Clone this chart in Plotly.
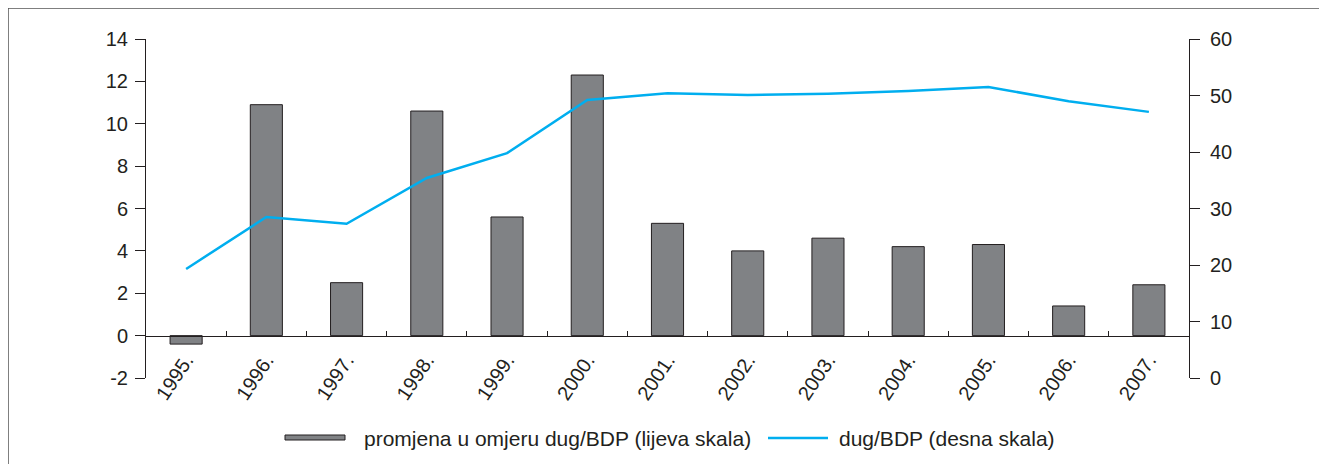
import plotly.graph_objects as go

# data
years = ["1995.", "1996.", "1997.", "1998.", "1999.", "2000.", "2001.",
         "2002.", "2003.", "2004.", "2005.", "2006.", "2007."]
change_ratio = [-0.4, 10.9, 2.5, 10.6, 5.6, 12.3, 5.3, 4.0, 4.6, 4.2, 4.3, 1.4, 2.4]
debt_gdp = [19.3, 28.5, 27.3, 35.4, 39.8, 49.2, 50.4, 50.1, 50.3, 50.8, 51.5, 49.0, 47.1]

left_ticks = list(range(-2, 15, 2))
left_labels = [str(v) for v in left_ticks]  # plain hyphen for -2
right_ticks = list(range(0, 61, 10))

bar_name = "promjena u omjeru dug/BDP (lijeva skala)"
line_name = "dug/BDP (desna skala)"

ink = "#231f20"
bar_color = "#808285"
line_color = "#00aeef"
font = dict(family="Liberation Sans, Arial, sans-serif", size=20, color=ink)

W, H = 1319, 456
M = dict(l=138, r=138, t=31, b=86)
pw = W - M["l"] - M["r"]
ph = H - M["t"] - M["b"]


def px(x):
    # figure pixel x -> paper x
    return (x - M["l"]) / pw


def py(y):
    # figure pixel y (from top) -> paper y
    return (H - M["b"] - y) / ph


fig = go.Figure()

fig.add_trace(go.Bar(
    x=years, y=change_ratio, name=bar_name,
    marker=dict(color=bar_color, line=dict(color=ink, width=1)),
    width=0.4,
))

fig.add_trace(go.Scatter(
    x=years, y=debt_gdp, yaxis="y2", mode="lines", name=line_name,
    line=dict(color=line_color, width=2.5),
))

fig.update_layout(
    width=W, height=H,
    margin=dict(M, autoexpand=False),
    paper_bgcolor="white", plot_bgcolor="white",
    font=font,
    showlegend=False,
    xaxis=dict(
        type="category", anchor="free", position=0.125,
        showline=True, linecolor=ink, linewidth=1,
        ticks="inside", ticklen=5, tickcolor=ink, tickson="boundaries",
        tickangle=-56, showgrid=False, zeroline=False,
        ticklabelstandoff=4,
    ),
    yaxis=dict(
        range=[-2, 14], tickvals=left_ticks, ticktext=left_labels,
        showline=True, linecolor=ink, linewidth=1,
        ticks="outside", ticklen=10, tickcolor=ink,
        showgrid=False, zeroline=False, ticklabelstandoff=3,
    ),
    yaxis2=dict(
        range=[0, 60], tickvals=right_ticks, overlaying="y", side="right",
        showline=True, linecolor=ink, linewidth=1,
        ticks="outside", ticklen=10, tickcolor=ink, showticklabels=False,
        showgrid=False, zeroline=False,
    ),
    # inner halves of the crossing tick marks
    yaxis3=dict(
        range=[-2, 14], tickvals=left_ticks, overlaying="y", side="left",
        ticks="inside", ticklen=10, tickcolor=ink, showticklabels=False,
        showline=False, showgrid=False, zeroline=False,
    ),
    yaxis4=dict(
        range=[0, 60], tickvals=right_ticks, overlaying="y", side="right",
        ticks="inside", ticklen=10, tickcolor=ink, showticklabels=False,
        showline=False, showgrid=False, zeroline=False,
    ),
)

# right-scale labels, placed on the y2 scale a little further off the axis
for v in right_ticks:
    fig.add_annotation(text=str(v), xref="paper", yref="y2",
                       x=px(1200), y=v, xanchor="left", yanchor="middle",
                       showarrow=False, font=font)

# legend drawn by hand: flat bar swatch + line swatch, as in the reference
leg_y = 430
fig.add_shape(type="rect", xref="paper", yref="paper",
              x0=px(277), x1=px(337), y0=py(432), y1=py(427),
              fillcolor=bar_color, line=dict(color=ink, width=1))
fig.add_annotation(text=bar_name, xref="paper", yref="paper",
                   x=px(354), y=py(leg_y), xanchor="left", yanchor="middle",
                   showarrow=False, font=dict(font, size=21))
fig.add_shape(type="line", xref="paper", yref="paper",
              x0=px(760), x1=px(820), y0=py(leg_y), y1=py(leg_y),
              line=dict(color=line_color, width=2.5))
fig.add_annotation(text=line_name, xref="paper", yref="paper",
                   x=px(829), y=py(leg_y), xanchor="left", yanchor="middle",
                   showarrow=False, font=dict(font, size=21))

# frame along the figure's top and left edges
fig.add_shape(type="line", xref="paper", yref="paper",
              x0=px(0), x1=px(W + 10), y0=py(0), y1=py(0),
              line=dict(color="#555555", width=1.5))
fig.add_shape(type="line", xref="paper", yref="paper",
              x0=px(0), x1=px(0), y0=py(0), y1=py(H + 10),
              line=dict(color="#555555", width=1.5))

fig.write_html("out.html")
